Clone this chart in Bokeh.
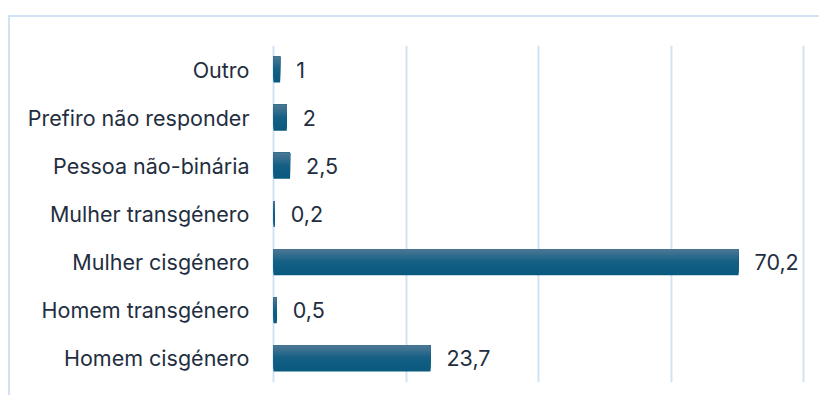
from bokeh.plotting import figure
from bokeh.models import FixedTicker, Range1d, ColumnDataSource
from bokeh.core.properties import value
from bokeh.embed import file_html
from bokeh.resources import INLINE

# Data (bottom to top)
categories = ["Homem cisgénero", "Homem transgénero", "Mulher cisgénero",
              "Mulher transgénero", "Pessoa não-binária", "Prefiro não responder", "Outro"]
values = [23.7, 0.5, 70.2, 0.2, 2.5, 2.0, 1.0]
x_ticks = [0, 20, 40, 60, 80]

FONT = "Inter"
FONT_SIZE = "21.5px"
TEXT_COLOR = "#1f2e40"
GRID_COLOR = "#d2e2f5"

pad = 2 / 6.625  # keep the edge gridlines fully visible
p = figure(width=811, height=380, output_backend="svg", toolbar_location=None,
           x_range=Range1d(x_ticks[0] - pad, x_ticks[-1] + pad),
           y_range=Range1d(-0.5, len(categories) - 0.5),
           min_border_left=261, min_border_right=16, min_border_top=28, min_border_bottom=15)
p.styles = {"border-top": f"2px solid {GRID_COLOR}", "border-left": f"2px solid {GRID_COLOR}",
            "margin-top": "15px", "margin-left": "8px"}
p.outline_line_color = None
p.background_fill_color = "white"

p.xaxis.visible = False
p.xaxis.ticker = FixedTicker(ticks=x_ticks)
p.xgrid.ticker = FixedTicker(ticks=x_ticks)
p.xgrid.grid_line_color = GRID_COLOR
p.xgrid.grid_line_width = 2
p.ygrid.grid_line_color = None

idx = list(range(len(categories)))
p.yaxis.ticker = FixedTicker(ticks=idx)
p.yaxis.major_label_overrides = {i: c for i, c in zip(idx, categories)}
p.yaxis.axis_line_color = None
p.yaxis.major_tick_line_color = None
p.yaxis.minor_tick_line_color = None
p.yaxis.major_label_standoff = 16
p.yaxis.major_label_text_font = FONT
p.yaxis.major_label_text_font_size = FONT_SIZE
p.yaxis.major_label_text_color = TEXT_COLOR

# Gradient bars: layered strips, dark at bottom, lighter toward the top
bar_h = 0.54
N = 14
def hex2rgb(h):
    h = h.lstrip("#")
    return [int(h[i:i + 2], 16) for i in (0, 2, 4)]
stops = [(0.0, hex2rgb("#09597e")), (0.5, hex2rgb("#145f85")), (1.0, hex2rgb("#4d7894"))]
def color_at(t):
    for (t0, c0), (t1, c1) in zip(stops[:-1], stops[1:]):
        if t <= t1:
            f = (t - t0) / (t1 - t0)
            return "#%02x%02x%02x" % tuple(int(round(a + (b - a) * f)) for a, b in zip(c0, c1))
    return "#%02x%02x%02x" % tuple(stops[-1][1])

for s in range(N):
    t = (s + 0.5) / N
    bottoms = [i - bar_h / 2 + s * bar_h / N for i in idx]
    tops = [i + bar_h / 2 for i in idx]
    p.quad(left=[0] * len(values), right=values, bottom=bottoms, top=tops,
           fill_color=color_at(t), line_color=None)

labels = [f"{v:g}".replace(".", ",") for v in values]
src = ColumnDataSource(dict(x=values, y=idx, t=labels))
p.text(x="x", y="y", text="t", source=src, x_offset=16, text_baseline="middle",
       text_align="left", text_font=value(FONT), text_font_size=FONT_SIZE, text_color=TEXT_COLOR)

open("out.html", "w").write(file_html(p, INLINE))
